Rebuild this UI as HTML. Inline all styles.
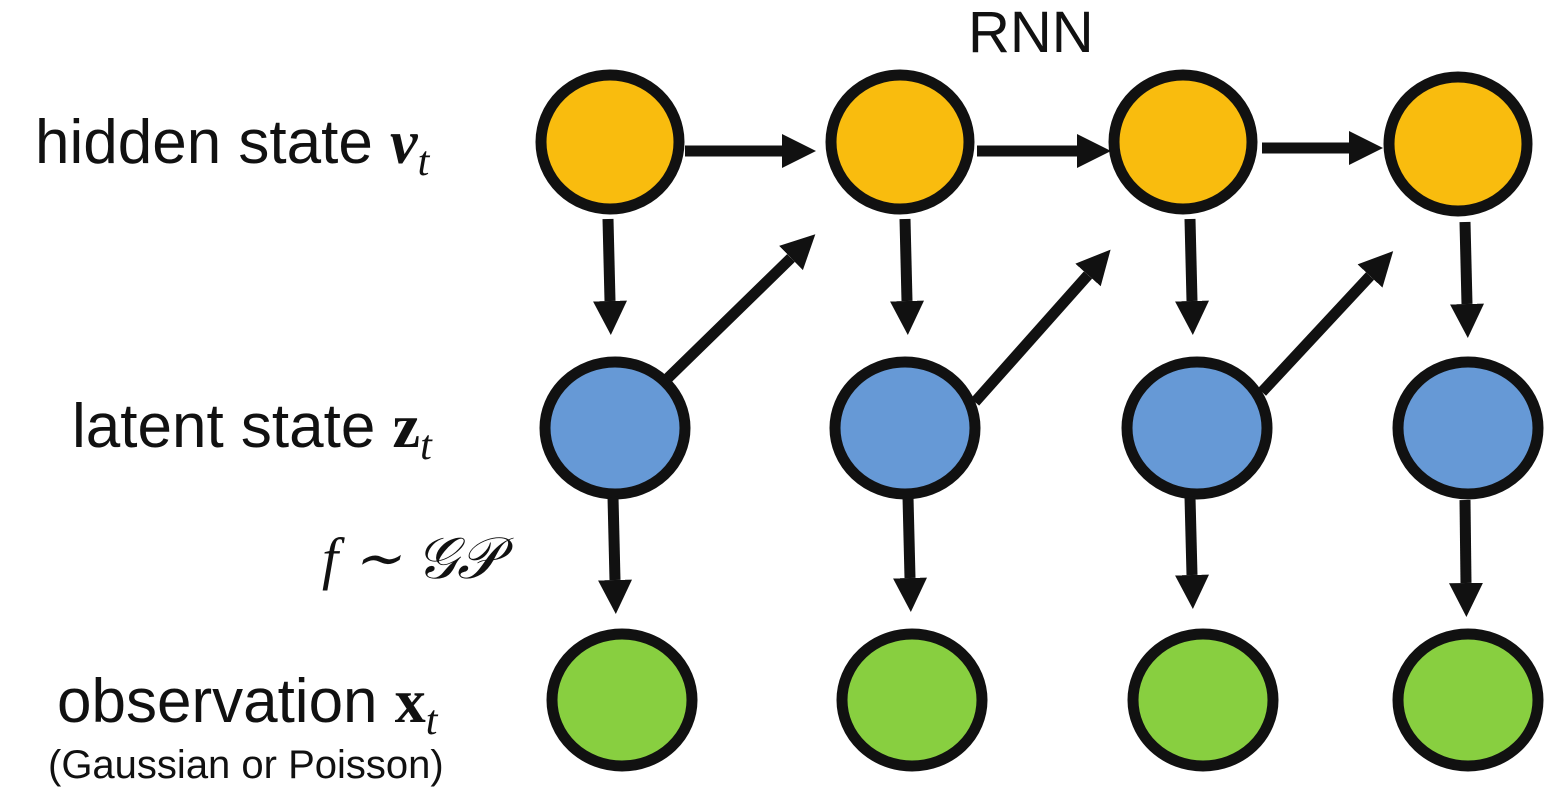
<!DOCTYPE html>
<html><head><style>
html,body{margin:0;padding:0;background:#fff;}
svg{display:block;}
text{font-family:"Liberation Sans",sans-serif;fill:#111;}
</style></head><body>
<svg width="1554" height="791" viewBox="0 0 1554 791" xmlns="http://www.w3.org/2000/svg">
<defs>
<marker id="a" markerUnits="userSpaceOnUse" markerWidth="40" markerHeight="40" refX="0" refY="17" orient="auto" viewBox="0 0 40 40">
<path d="M0,0 L34,17 L0,34 z" fill="#111"/>
</marker>
</defs>
<g stroke="#111" stroke-width="11">
<ellipse cx="610" cy="142" rx="69" ry="67" fill="#F9BC0E"/>
<ellipse cx="900" cy="142" rx="69" ry="67" fill="#F9BC0E"/>
<ellipse cx="1183" cy="142" rx="69" ry="67" fill="#F9BC0E"/>
<ellipse cx="1458" cy="144" rx="69" ry="67" fill="#F9BC0E"/>
<ellipse cx="615" cy="428" rx="70" ry="66" fill="#6699D6"/>
<ellipse cx="905" cy="428" rx="70" ry="66" fill="#6699D6"/>
<ellipse cx="1197" cy="428" rx="70" ry="66" fill="#6699D6"/>
<ellipse cx="1468" cy="428" rx="70" ry="66" fill="#6699D6"/>
<ellipse cx="622" cy="700" rx="70" ry="66" fill="#88CF40"/>
<ellipse cx="912" cy="700" rx="70" ry="66" fill="#88CF40"/>
<ellipse cx="1203" cy="700" rx="70" ry="66" fill="#88CF40"/>
<ellipse cx="1468" cy="700" rx="70" ry="66" fill="#88CF40"/>
<g fill="none" marker-end="url(#a)">
<line x1="685" y1="151" x2="782" y2="151"/>
<line x1="977" y1="151" x2="1077" y2="151"/>
<line x1="1262" y1="148" x2="1349" y2="148"/>
<line x1="608" y1="219" x2="610" y2="301"/>
<line x1="905" y1="219" x2="907" y2="301"/>
<line x1="1190" y1="219" x2="1192" y2="301"/>
<line x1="1465" y1="222" x2="1467" y2="304"/>
<line x1="668" y1="378" x2="791" y2="258"/>
<line x1="975" y1="402" x2="1088" y2="275"/>
<line x1="1262" y1="392" x2="1370" y2="276"/>
<line x1="613" y1="497" x2="615" y2="580"/>
<line x1="908" y1="497" x2="910" y2="578"/>
<line x1="1190" y1="497" x2="1192" y2="575"/>
<line x1="1465" y1="500" x2="1466" y2="583"/>
</g>
</g>
<text x="968" y="52" font-size="58">RNN</text>
<text x="35" y="163" font-size="62">hidden state <tspan font-family="Liberation Serif" font-weight="bold" font-style="italic">ν</tspan><tspan font-family="Liberation Serif" font-style="italic" font-size="42" dy="12">t</tspan></text>
<text x="72" y="447" font-size="62">latent state <tspan font-family="Liberation Serif" font-weight="bold">z</tspan><tspan font-family="Liberation Serif" font-style="italic" font-size="42" dy="12">t</tspan></text>
<text x="57" y="722" font-size="62">observation <tspan font-family="Liberation Serif" font-weight="bold">x</tspan><tspan font-family="Liberation Serif" font-style="italic" font-size="42" dy="12">t</tspan></text>
<text x="48" y="778" font-size="40">(Gaussian or Poisson)</text>
<text x="322" y="578" font-size="58" font-family="Liberation Serif" font-style="italic" style="font-family:'Liberation Serif',serif">f ∼ 𝒢𝒫</text>
</svg>
</body></html>
